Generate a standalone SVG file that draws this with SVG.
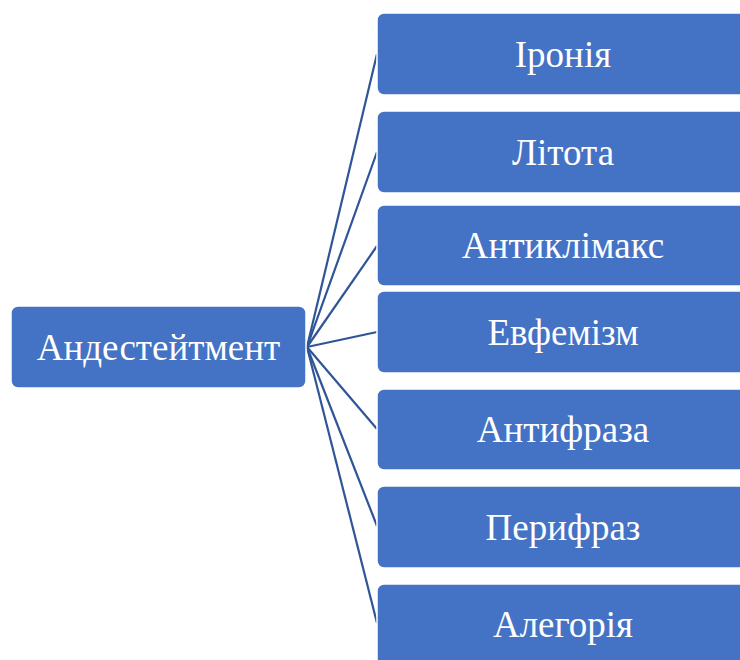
<svg xmlns="http://www.w3.org/2000/svg" width="740" height="660" viewBox="0 0 740 660">
<style>
.box{fill:#4472C4;stroke:#ffffff;stroke-width:1.5}
.lbl{font-family:"Liberation Serif","Times New Roman",serif;font-size:37px;fill:#ffffff;text-anchor:middle}
.conn{stroke:#2F5597;stroke-width:2.2;fill:none}
</style>
<rect width="740" height="660" fill="#ffffff"/>
<g id="connectors">
<line class="conn" x1="307" y1="347" x2="377" y2="54"/>
<line class="conn" x1="307" y1="347" x2="377" y2="152"/>
<line class="conn" x1="307" y1="347" x2="377" y2="246"/>
<line class="conn" x1="307" y1="347" x2="377" y2="332"/>
<line class="conn" x1="307" y1="347" x2="377" y2="429"/>
<line class="conn" x1="307" y1="347" x2="377" y2="526"/>
<line class="conn" x1="307" y1="347" x2="377" y2="623"/>
</g>
<g id="root">
<rect class="box" x="11" y="306" width="295" height="82" rx="7"/>
<text class="lbl" x="158.5" y="360">Андестейтмент</text>
</g>
<g id="n1">
<rect class="box" x="377" y="13" width="372" height="82" rx="7"/>
<text class="lbl" x="563" y="67">Іронія</text>
</g>
<g id="n2">
<rect class="box" x="377" y="111" width="372" height="82" rx="7"/>
<text class="lbl" x="563" y="165">Літота</text>
</g>
<g id="n3">
<rect class="box" x="377" y="205" width="372" height="81" rx="7"/>
<text class="lbl" x="563" y="258">Антиклімакс</text>
</g>
<g id="n4">
<rect class="box" x="377" y="291" width="372" height="82" rx="7"/>
<text class="lbl" x="563" y="345">Евфемізм</text>
</g>
<g id="n5">
<rect class="box" x="377" y="389" width="372" height="81" rx="7"/>
<text class="lbl" x="563" y="442">Антифраза</text>
</g>
<g id="n6">
<rect class="box" x="377" y="486" width="372" height="82" rx="7"/>
<text class="lbl" x="563" y="540">Перифраз</text>
</g>
<g id="n7">
<rect class="box" x="377" y="584" width="372" height="82" rx="7"/>
<text class="lbl" x="563" y="637">Алегорія</text>
</g>
</svg>
